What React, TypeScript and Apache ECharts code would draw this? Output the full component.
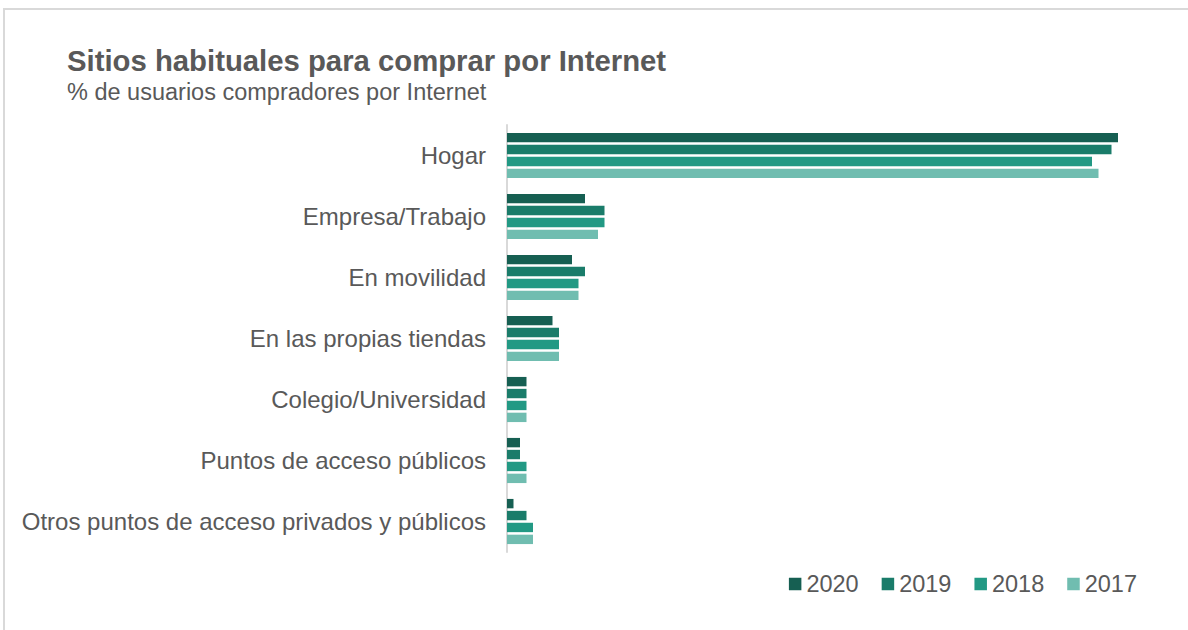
import React, { useEffect, useRef } from "react";
import * as echarts from "echarts";

const categories = [
  "Hogar",
  "Empresa/Trabajo",
  "En movilidad",
  "En las propias tiendas",
  "Colegio/Universidad",
  "Puntos de acceso públicos",
  "Otros puntos de acceso privados y públicos",
];
const years = ["2020", "2019", "2018", "2017"];
const values2020 = [94, 12, 10, 7, 3, 2, 1];
const values2019 = [93, 15, 12, 8, 3, 2, 3];
const values2018 = [90, 15, 11, 8, 3, 3, 4];
const values2017 = [91, 14, 11, 8, 3, 3, 4];
const colors = ["#165f52", "#1a7c6a", "#229984", "#70bdb0"];

const seriesValues = [values2020, values2019, values2018, values2017];
const FONT = "'Liberation Sans', Arial, sans-serif";

export default function App() {
  const ref = useRef<HTMLDivElement>(null);
  useEffect(() => {
    if (!ref.current) return;
    const chart = echarts.init(ref.current, undefined, { renderer: "svg" });
    chart.setOption({
      animation: false,
      backgroundColor: "#ffffff",
      textStyle: { fontFamily: FONT },
      graphic: [
        {
          type: "rect",
          shape: { x: 4, y: 9, width: 1300, height: 700 },
          style: { fill: "none", stroke: "#d9d9d9", lineWidth: 2 },
          silent: true,
        },
        {
          type: "text",
          x: 67,
          y: 60,
          style: {
            text: "Sitios habituales para comprar por Internet",
            fontFamily: FONT,
            fontSize: 29.3,
            fontWeight: "bold",
            fill: "#595959",
            verticalAlign: "middle",
          },
        },
        {
          type: "text",
          x: 67,
          y: 92,
          style: {
            text: "% de usuarios compradores por Internet",
            fontFamily: FONT,
            fontSize: 23.5,
            fill: "#595959",
            verticalAlign: "middle",
          },
        },
      ],
      legend: {
        data: years,
        right: 46,
        top: 567,
        itemWidth: 12.5,
        itemHeight: 12.5,
        itemGap: 23,
        icon: "rect",
        textStyle: { fontFamily: FONT, fontSize: 23.5, color: "#595959", padding: [0, 0, 0, 0] },
      },
      grid: { left: 507, right: 31, top: 125, bottom: 78, containLabel: false },
      xAxis: {
        type: "value",
        min: 0,
        max: 100,
        show: false,
      },
      yAxis: {
        type: "category",
        data: categories,
        inverse: true,
        axisLine: { show: true, lineStyle: { color: "#d9d9d9", width: 2 } },
        axisTick: { show: false },
        axisLabel: {
          margin: 21,
          fontFamily: FONT,
          fontSize: 24,
          color: "#595959",
        },
      },
      series: years.map((y, i) => ({
        name: y,
        type: "bar",
        data: seriesValues[i],
        barCategoryGap: "26%",
        barGap: "27%",
        itemStyle: { color: colors[i] },
      })),
    });
    return () => chart.dispose();
  }, []);
  return (
    <div
      ref={ref}
      style={{ position: "fixed", left: 0, top: 0, width: 1188, height: 630 }}
    />
  );
}
